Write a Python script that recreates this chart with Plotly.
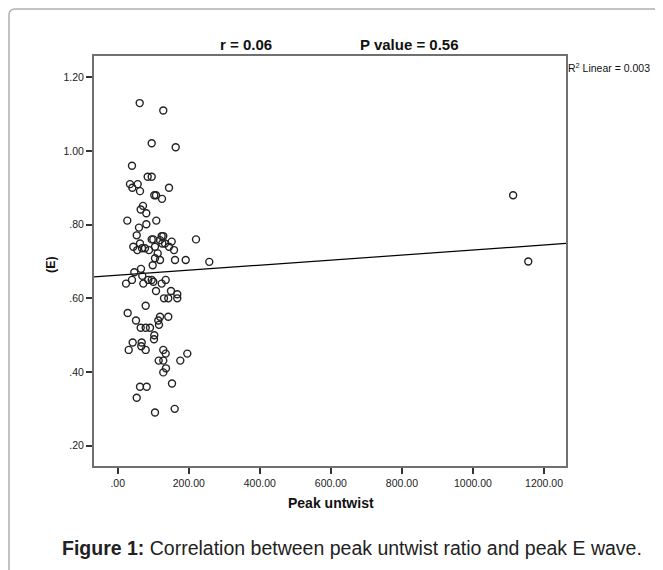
import plotly.graph_objects as go

# ---- data ----
peak_untwist = [61.9, 128.3, 95.7, 163.2, 40.2, 84.4, 95.7, 34.6, 56.3, 41.1,
                62.8, 144.4, 103.0, 107.8, 124.7, 71.2, 64.7, 80.5, 27.0, 108.6,
                59.9, 80.5, 53.5, 220.4, 95.7, 100.2, 123.8, 128.3, 119.1, 125.5,
                133.1, 152.0, 144.4, 158.5, 105.0, 112.6, 105.0, 119.1, 161.3, 191.4,
                257.8,
                43.9, 62.8, 68.4, 55.2, 88.1, 76.8, 98.5, 65.6, 46.7, 40.2,
                23.4, 69.2, 72.1, 86.1, 95.7, 100.2, 123.8, 135.1, 107.8, 150.0,
                167.7, 130.3, 142.4, 167.7, 78.8, 28.1, 51.5, 119.1, 142.4, 114.3,
                116.2, 64.7, 78.8, 90.9, 103.0, 102.2, 42.2, 67.5, 66.4, 31.0,
                78.8, 128.3, 135.1, 195.9, 115.4, 128.3, 176.2, 135.9, 128.3, 152.8,
                62.8, 81.6, 53.5, 105.0, 160.4, 1113.0, 1155.6]
peak_e = [1.130, 1.110, 1.021, 1.010, 0.960, 0.930, 0.930, 0.910, 0.910, 0.900,
          0.891, 0.900, 0.880, 0.880, 0.870, 0.851, 0.841, 0.831, 0.811, 0.811,
          0.792, 0.801, 0.771, 0.760, 0.760, 0.760, 0.769, 0.769, 0.758, 0.749,
          0.749, 0.754, 0.740, 0.731, 0.740, 0.722, 0.709, 0.704, 0.704, 0.704,
          0.699,
          0.740, 0.749, 0.736, 0.731, 0.731, 0.736, 0.690, 0.680, 0.671, 0.650,
          0.640, 0.661, 0.640, 0.650, 0.650, 0.645, 0.640, 0.650, 0.620, 0.620,
          0.611, 0.600, 0.600, 0.600, 0.580, 0.560, 0.540, 0.550, 0.550, 0.540,
          0.528, 0.520, 0.520, 0.520, 0.500, 0.489, 0.480, 0.480, 0.470, 0.460,
          0.460, 0.460, 0.450, 0.450, 0.431, 0.431, 0.431, 0.410, 0.399, 0.369,
          0.360, 0.360, 0.330, 0.290, 0.300, 0.880, 0.700]

fit_intercept = 0.6627
fit_slope = 0.0000684

x_tick_vals = [0, 200, 400, 600, 800, 1000, 1200]
x_tick_text = [".00", "200.00", "400.00", "600.00", "800.00", "1000.00", "1200.00"]
y_tick_vals = [0.2, 0.4, 0.6, 0.8, 1.0, 1.2]
y_tick_text = [".20", ".40", ".60", ".80", "1.00", "1.20"]

x_range = [-66.7, 1261.8]
y_range = [0.1449, 1.2578]

# page offset (default body margin of the html page)
OFF = 8
W, H = 663 - OFF, 570 - OFF
# plot area in page pixels: left 94, right 566, top 56, bottom 466
ML = 94 - OFF
MT = 56 - OFF
MR = W - (566 - OFF)
MB = H - (466 - OFF)
PW, PH = W - ML - MR, H - MT - MB


def px(x):
    return (x - OFF - ML) / PW


def py(y):
    return (H - MB - (y - OFF)) / PH


fig = go.Figure()

fit_x = x_range
fit_y = [fit_intercept + fit_slope * v for v in fit_x]
fig.add_trace(go.Scatter(x=fit_x, y=fit_y, mode="lines",
                         line=dict(color="#000000", width=1.2),
                         hoverinfo="skip", showlegend=False))

fig.add_trace(go.Scatter(x=peak_untwist, y=peak_e, mode="markers",
                         marker=dict(symbol="circle-open", size=7, color="#222222",
                                     line=dict(width=1.4)),
                         showlegend=False))

FONT = "Liberation Sans, Arial, sans-serif"
axis_font = dict(family=FONT, size=10.5, color="#222222")

fig.update_xaxes(range=x_range, tickvals=x_tick_vals, ticktext=x_tick_text,
                 showgrid=False, zeroline=False, showline=True, mirror=True,
                 linecolor="#707070", linewidth=2, ticks="outside", ticklen=6,
                 tickcolor="#333333", tickwidth=1.5, tickfont=axis_font)
fig.update_yaxes(range=y_range, tickvals=y_tick_vals, ticktext=y_tick_text,
                 showgrid=False, zeroline=False, showline=True, mirror=True,
                 linecolor="#707070", linewidth=2, ticks="outside", ticklen=6,
                 tickcolor="#333333", tickwidth=1.5, tickfont=axis_font)

bold = dict(family=FONT, size=15, color="#111111")
annotations = [
    dict(text="<b>r = 0.06</b>", x=px(246), y=py(45), font=bold),
    dict(text="<b>P value = 0.56</b>", x=px(409), y=py(45), font=bold),
    dict(text="R<sup>2</sup> Linear = 0.003", x=px(566), y=py(67), xanchor="left",
         font=dict(family=FONT, size=10.5, color="#111111")),
    dict(text="<b>(E)</b>", x=px(51), y=py(265), textangle=-90,
         font=dict(family=FONT, size=12.5, color="#111111")),
    dict(text="<b>Peak untwist</b>", x=px(331), y=py(503),
         font=dict(family=FONT, size=14, color="#111111")),
    dict(text="<b>Figure 1:</b> Correlation between peak untwist ratio and peak E wave.",
         x=px(352), y=py(548),
         font=dict(family=FONT, size=19.5, color="#222222")),
]
for a in annotations:
    a.update(xref="paper", yref="paper", showarrow=False)
    a.setdefault("xanchor", "center")
    a.setdefault("yanchor", "middle")

# outer rounded frame (left and top edges)
r = 6
x0, ytop = 9, 9
path = (f"M {px(x0)},{py(575)} L {px(x0)},{py(ytop + r)} "
        f"Q {px(x0)},{py(ytop)} {px(x0 + r)},{py(ytop)} L {px(670)},{py(ytop)}")
fig.add_shape(type="path", path=path, xref="paper", yref="paper",
              line=dict(color="#b0b0b0", width=1.5))

fig.update_layout(width=W, height=H, margin=dict(l=ML, r=MR, t=MT, b=MB),
                  paper_bgcolor="white", plot_bgcolor="white",
                  annotations=annotations, showlegend=False)

fig.write_html("out.html")
